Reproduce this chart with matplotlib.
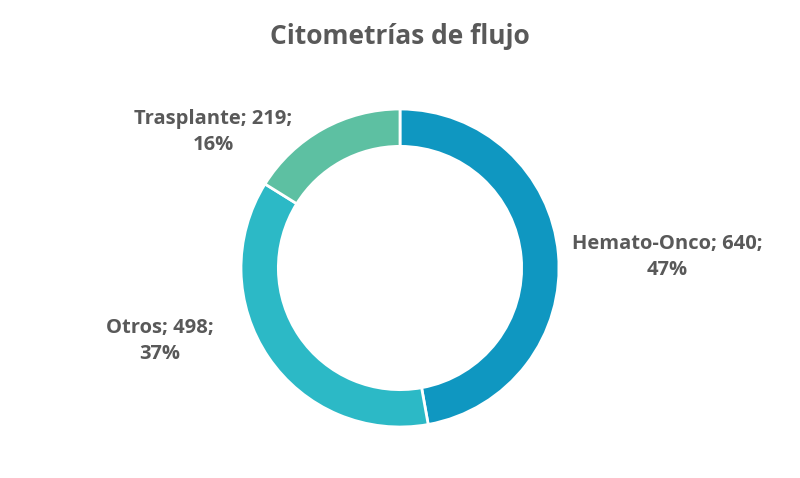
import matplotlib
matplotlib.use("Agg")
import matplotlib.pyplot as plt

categories = ["Hemato-Onco", "Otros", "Trasplante"]
values = [640, 498, 219]
colors = ["#0F97C1", "#2CB9C6", "#5DC0A2"]
title = "Citometrías de flujo"

plt.rcParams['font.family'] = ['Open Sans', 'DejaVu Sans']

W, H = 800, 478
fig = plt.figure(figsize=(W / 100, H / 100), dpi=100)
fig.patch.set_facecolor("white")

cx, cy, R = 400, 268, 159
ax = fig.add_axes([(cx - R) / W, (H - cy - R) / H, 2 * R / W, 2 * R / H])

wedges, _ = ax.pie(values, colors=colors, startangle=90, counterclock=False,
                   radius=1.0,
                   wedgeprops=dict(width=0.235, edgecolor="white", linewidth=2))
ax.set_xlim(-1, 1)
ax.set_ylim(-1, 1)
ax.set_aspect("equal")
ax.axis("off")

total = sum(values)
# label positions in pixels (center of text block)
label_pos = {"Hemato-Onco": (667, 257), "Otros": (160, 341), "Trasplante": (213, 132)}
for cat, v in zip(categories, values):
    px, py = label_pos[cat]
    x = (px - cx) / R
    y = (cy - py) / R
    pct = round(100 * v / total)
    ax.text(x, y, f"{cat}; {v};\n{pct}%", ha="center", va="center",
            fontsize=14.5, fontweight="bold", color="#595959",
            linespacing=1.45, clip_on=False)

fig.text(0.5, 1 - 36 / H, title, ha="center", va="center", fontsize=19,
         fontweight="bold", color="#595959")

fig.savefig("out.png", dpi=100, facecolor="white")
